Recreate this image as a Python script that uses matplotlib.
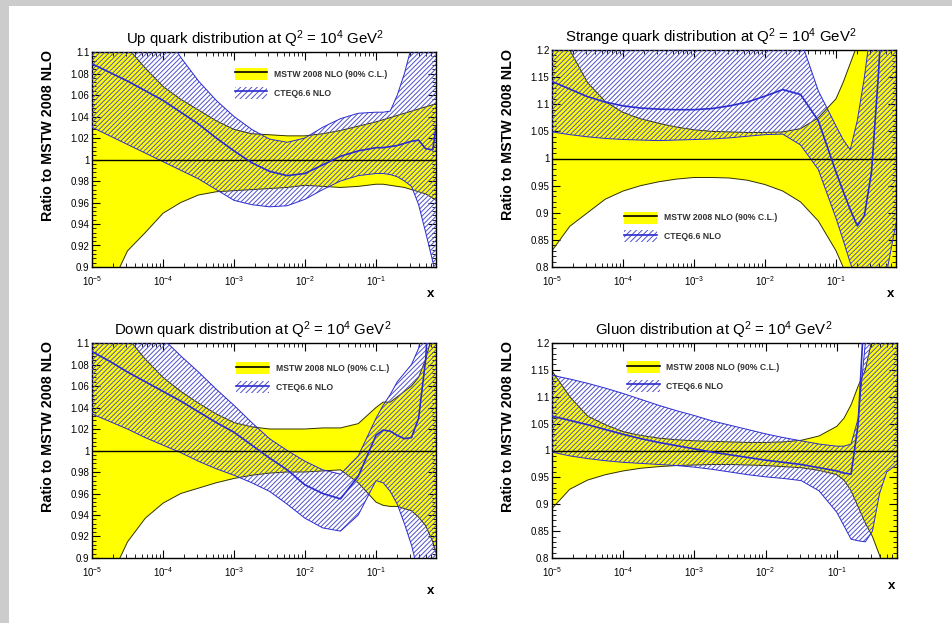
import numpy as np
import matplotlib
matplotlib.use("Agg")
import matplotlib.pyplot as plt
from matplotlib.patches import Patch, Rectangle
from matplotlib.lines import Line2D
from matplotlib.ticker import MultipleLocator, AutoMinorLocator, FuncFormatter, LogLocator

plt.rcParams['font.family'] = ['Liberation Sans', 'DejaVu Sans']
plt.rcParams['mathtext.fontset'] = 'custom'
plt.rcParams['mathtext.rm'] = 'Liberation Sans'
plt.rcParams['mathtext.it'] = 'Liberation Sans:italic'
plt.rcParams['mathtext.bf'] = 'Liberation Sans:bold'
plt.rcParams['hatch.linewidth'] = 0.7

# common log10(x) grid at which values were read
logx = [-5, -4.75, -4.5, -4.25, -4, -3.75, -3.5, -3.25, -3, -2.75, -2.5, -2.25, -2,
        -1.75, -1.5, -1.25, -1, -0.9, -0.8, -0.7, -0.6, -0.5, -0.4, -0.3, -0.2, -0.155]

# ---------------- Up quark ----------------
up_mstw_hi = [1.15, 1.125, 1.104, 1.085, 1.068, 1.056, 1.046, 1.036, 1.028, 1.024, 1.023, 1.022, 1.022,
              1.024, 1.027, 1.031, 1.035, 1.037, 1.039, 1.041, 1.043, 1.045, 1.047, 1.049, 1.051, 1.052]
up_mstw_lo = [0.85, 0.88, 0.915, 0.932, 0.95, 0.96, 0.967, 0.970, 0.971, 0.972, 0.973, 0.974, 0.976,
              0.975, 0.974, 0.975, 0.977, 0.977, 0.976, 0.975, 0.974, 0.972, 0.970, 0.968, 0.964, 0.962]
up_cteq_c = [1.089, 1.081, 1.073, 1.064, 1.055, 1.044, 1.033, 1.020, 1.008, 0.997, 0.989, 0.985, 0.987,
             0.995, 1.003, 1.008, 1.011, 1.011, 1.012, 1.013, 1.015, 1.017, 1.018, 1.010, 1.009, 1.03]
up_cteq_hi = [1.25, 1.22, 1.18, 1.15, 1.12, 1.095, 1.073, 1.055, 1.040, 1.028, 1.019, 1.016, 1.020,
              1.030, 1.038, 1.043, 1.044, 1.044, 1.045, 1.06, 1.08, 1.105, 1.14, 1.18, 1.22, 1.24]
up_cteq_lo = [1.03, 1.022, 1.014, 1.006, 0.998, 0.99, 0.982, 0.972, 0.962, 0.958, 0.956, 0.957, 0.963,
              0.972, 0.980, 0.985, 0.987, 0.987, 0.986, 0.984, 0.980, 0.975, 0.958, 0.932, 0.905, 0.89]

# ---------------- Strange quark ----------------
s_mstw_hi = [1.30, 1.20, 1.14, 1.105, 1.085, 1.073, 1.065, 1.058, 1.053, 1.050, 1.049, 1.048, 1.048,
             1.049, 1.055, 1.075, 1.11, 1.14, 1.175, 1.21, 1.26, 1.30, 1.35, 1.40, 1.45, 1.45]
s_mstw_lo = [0.83, 0.875, 0.90, 0.925, 0.94, 0.95, 0.957, 0.962, 0.965, 0.965, 0.964, 0.960, 0.952,
             0.940, 0.920, 0.885, 0.83, 0.80, 0.76, 0.72, 0.68, 0.65, 0.62, 0.60, 0.58, 0.57]
s_cteq_c = [1.142, 1.128, 1.114, 1.104, 1.097, 1.093, 1.091, 1.090, 1.090, 1.092, 1.097, 1.104, 1.115,
            1.127, 1.118, 1.07, 0.975, 0.94, 0.906, 0.876, 0.895, 0.975, 1.16, 1.40, 1.6, 1.7]
s_cteq_hi = [1.30, 1.30, 1.30, 1.30, 1.30, 1.30, 1.30, 1.30, 1.30, 1.30, 1.30, 1.30, 1.30,
             1.28, 1.22, 1.125, 1.06, 1.035, 1.016, 1.07, 1.15, 1.25, 1.40, 1.60, 1.8, 1.9]
s_cteq_lo = [1.049, 1.044, 1.040, 1.037, 1.035, 1.034, 1.033, 1.034, 1.035, 1.036, 1.038, 1.041, 1.044,
             1.045, 1.025, 0.98, 0.89, 0.85, 0.808, 0.77, 0.74, 0.73, 0.74, 0.78, 0.85, 0.88]

# ---------------- Down quark ----------------
d_mstw_hi = [1.16, 1.13, 1.105, 1.085, 1.068, 1.055, 1.044, 1.034, 1.026, 1.022, 1.020, 1.020, 1.020,
             1.021, 1.021, 1.025, 1.040, 1.045, 1.045, 1.050, 1.055, 1.060, 1.068, 1.085, 1.11, 1.12]
d_mstw_lo = [0.85, 0.88, 0.915, 0.937, 0.951, 0.96, 0.965, 0.970, 0.974, 0.977, 0.979, 0.980, 0.980,
             0.981, 0.982, 0.970, 0.952, 0.949, 0.948, 0.948, 0.946, 0.944, 0.938, 0.93, 0.915, 0.905]
d_cteq_c = [1.092, 1.083, 1.073, 1.064, 1.055, 1.046, 1.036, 1.026, 1.017, 1.005, 0.993, 0.982, 0.968,
            0.960, 0.955, 0.976, 1.014, 1.019, 1.018, 1.014, 1.011, 1.012, 1.03, 1.085, 1.2, 1.3]
d_cteq_hi = [1.25, 1.20, 1.16, 1.125, 1.104, 1.088, 1.073, 1.057, 1.042, 1.026, 1.011, 1.000, 0.990,
             0.982, 0.978, 0.995, 1.030, 1.042, 1.052, 1.064, 1.072, 1.080, 1.095, 1.13, 1.2, 1.25]
d_cteq_lo = [1.034, 1.027, 1.020, 1.012, 1.005, 0.998, 0.990, 0.983, 0.977, 0.970, 0.962, 0.950, 0.937,
             0.928, 0.925, 0.940, 0.972, 0.970, 0.962, 0.950, 0.932, 0.912, 0.885, 0.86, 0.83, 0.82]

# ---------------- Gluon ----------------
g_mstw_hi = [1.148, 1.10, 1.064, 1.048, 1.035, 1.028, 1.023, 1.020, 1.018, 1.017, 1.016, 1.015, 1.015,
             1.016, 1.019, 1.027, 1.045, 1.06, 1.085, 1.12, 1.15, 1.21, 1.3, 1.4, 1.5, 1.5]
g_mstw_lo = [0.892, 0.928, 0.945, 0.955, 0.962, 0.967, 0.970, 0.972, 0.973, 0.974, 0.974, 0.973, 0.972,
             0.970, 0.968, 0.963, 0.955, 0.945, 0.925, 0.895, 0.865, 0.84, 0.805, 0.76, 0.7, 0.68]
g_cteq_c = [1.064, 1.056, 1.048, 1.039, 1.030, 1.022, 1.015, 1.009, 1.003, 0.997, 0.992, 0.987, 0.982,
            0.978, 0.974, 0.968, 0.962, 0.958, 0.956, 1.05, 1.3, 1.5, 1.7, 1.8, 1.9, 2.0]
g_cteq_hi = [1.14, 1.133, 1.125, 1.116, 1.106, 1.095, 1.084, 1.074, 1.065, 1.055, 1.047, 1.039, 1.031,
             1.024, 1.018, 1.012, 1.008, 1.008, 1.012, 1.06, 1.20, 1.35, 1.5, 1.7, 1.9, 2.0]
g_cteq_lo = [0.997, 0.990, 0.985, 0.981, 0.978, 0.976, 0.974, 0.972, 0.969, 0.965, 0.960, 0.955, 0.951,
             0.948, 0.944, 0.925, 0.885, 0.86, 0.835, 0.832, 0.83, 0.85, 0.92, 0.96, 0.97, 0.975]

titles = ["Up quark distribution at Q$^{2}$ = 10$^{4}$ GeV$^{2}$",
          "Strange quark distribution at Q$^{2}$ = 10$^{4}$ GeV$^{2}$",
          "Down quark distribution at Q$^{2}$ = 10$^{4}$ GeV$^{2}$",
          "Gluon distribution at Q$^{2}$ = 10$^{4}$ GeV$^{2}$"]
legend_labels = ["MSTW 2008 NLO (90% C.L.)", "CTEQ6.6 NLO"]
ylabel = "Ratio to MSTW 2008 NLO"

panels = [
    dict(mhi=up_mstw_hi, mlo=up_mstw_lo, c=up_cteq_c, chi=up_cteq_hi, clo=up_cteq_lo,
         ylim=(0.9, 1.1), major=0.02),
    dict(mhi=s_mstw_hi, mlo=s_mstw_lo, c=s_cteq_c, chi=s_cteq_hi, clo=s_cteq_lo,
         ylim=(0.8, 1.2), major=0.05),
    dict(mhi=d_mstw_hi, mlo=d_mstw_lo, c=d_cteq_c, chi=d_cteq_hi, clo=d_cteq_lo,
         ylim=(0.9, 1.1), major=0.02),
    dict(mhi=g_mstw_hi, mlo=g_mstw_lo, c=g_cteq_c, chi=g_cteq_hi, clo=g_cteq_lo,
         ylim=(0.8, 1.2), major=0.05),
]

W, H = 953, 623
fig = plt.figure(figsize=(W / 100, H / 100), dpi=100)
fig.patch.set_facecolor('white')

# axes boxes in pixels: (left, top, right, bottom)
boxes = [(92, 52, 436, 267), (552, 50, 896, 267), (92, 343, 436, 558), (552, 343, 897, 558)]
legend_anchor = [(0.415, 0.925), (0.21, 0.255), (0.42, 0.91), (0.217, 0.915)]
title_x = [0.474, 0.462, 0.468, 0.47]
xlabel_pos = [(0.983, -0.125), (0.985, -0.125), (0.983, -0.155), (0.985, -0.13)]

YEL = '#ffff00'
BLUE = '#2b2bd0'
HATCH = '#5050cc'

x = 10.0 ** np.array(logx)
for i, p in enumerate(panels):
    l, t, r, b = boxes[i]
    ax = fig.add_axes([l / W, 1 - b / H, (r - l) / W, (b - t) / H])
    mhi, mlo = np.array(p['mhi']), np.array(p['mlo'])
    chi, clo, c = np.array(p['chi']), np.array(p['clo']), np.array(p['c'])

    ax.fill_between(x, mlo, mhi, facecolor=YEL, edgecolor='none', zorder=1)
    ax.plot(x, mhi, color='#303000', lw=0.7, zorder=2)
    ax.plot(x, mlo, color='#303000', lw=0.7, zorder=2)
    ax.fill_between(x, clo, chi, facecolor='none', edgecolor=HATCH, hatch='///////',
                    linewidth=0, zorder=3)
    ax.plot(x, chi, color=BLUE, lw=0.7, zorder=4)
    ax.plot(x, clo, color=BLUE, lw=0.7, zorder=4)
    ax.axhline(1.0, color='black', lw=1.0, zorder=5)
    ax.plot(x, c, color=BLUE, lw=1.2, zorder=6)

    ax.set_xscale('log')
    ax.set_xlim(1e-5, 10 ** -0.155)
    ax.set_ylim(*p['ylim'])
    ax.yaxis.set_major_locator(MultipleLocator(p['major']))
    ax.yaxis.set_minor_locator(AutoMinorLocator(5))
    ax.yaxis.set_major_formatter(FuncFormatter(lambda v, pos: f"{v:g}"))
    ax.xaxis.set_major_locator(LogLocator(base=10, numticks=10))
    ax.xaxis.set_minor_locator(LogLocator(base=10, subs=np.arange(2, 10), numticks=20))
    ax.tick_params(which='both', direction='in', top=True, right=True, labelsize=7)
    ax.tick_params(axis='x', which='major', pad=5)
    ax.tick_params(axis='y', which='major', pad=2)
    ax.tick_params(which='major', length=6, width=0.8)
    ax.tick_params(which='minor', length=3, width=0.6)
    for s in ax.spines.values():
        s.set_linewidth(1.0)

    ax.set_title(titles[i], fontsize=10.8, x=title_x[i], pad=6)
    ax.set_ylabel(ylabel, fontsize=10.3, fontweight='bold')
    ax.yaxis.set_label_coords(-0.108, 0.61)
    ax.text(xlabel_pos[i][0], xlabel_pos[i][1], 'x', transform=ax.transAxes,
            fontsize=9.5, fontweight='bold', ha='center', va='center')

    h1 = (Patch(facecolor=YEL, edgecolor='none'), Line2D([], [], color='black', lw=1.2))
    h2 = (Patch(facecolor='white', edgecolor=HATCH, hatch='//////', linewidth=0),
          Line2D([], [], color=BLUE, lw=1.2))
    ax.legend([h1, h2], legend_labels, loc='upper left', bbox_to_anchor=legend_anchor[i],
              frameon=False, prop=dict(size=6.2, weight='bold'), handlelength=3.8,
              handleheight=1.75, labelspacing=0.8, handletextpad=0.8, borderpad=0,
              borderaxespad=0, labelcolor='#333333')

# grey frame strips
fig.add_artist(Rectangle((0, 0), 9 / W, 1, transform=fig.transFigure,
                         facecolor='#cccccc', edgecolor='none'))
fig.add_artist(Rectangle((0, 1 - 6 / H), 1, 6 / H, transform=fig.transFigure,
                         facecolor='#cccccc', edgecolor='none'))

fig.savefig('out.png', dpi=100)
